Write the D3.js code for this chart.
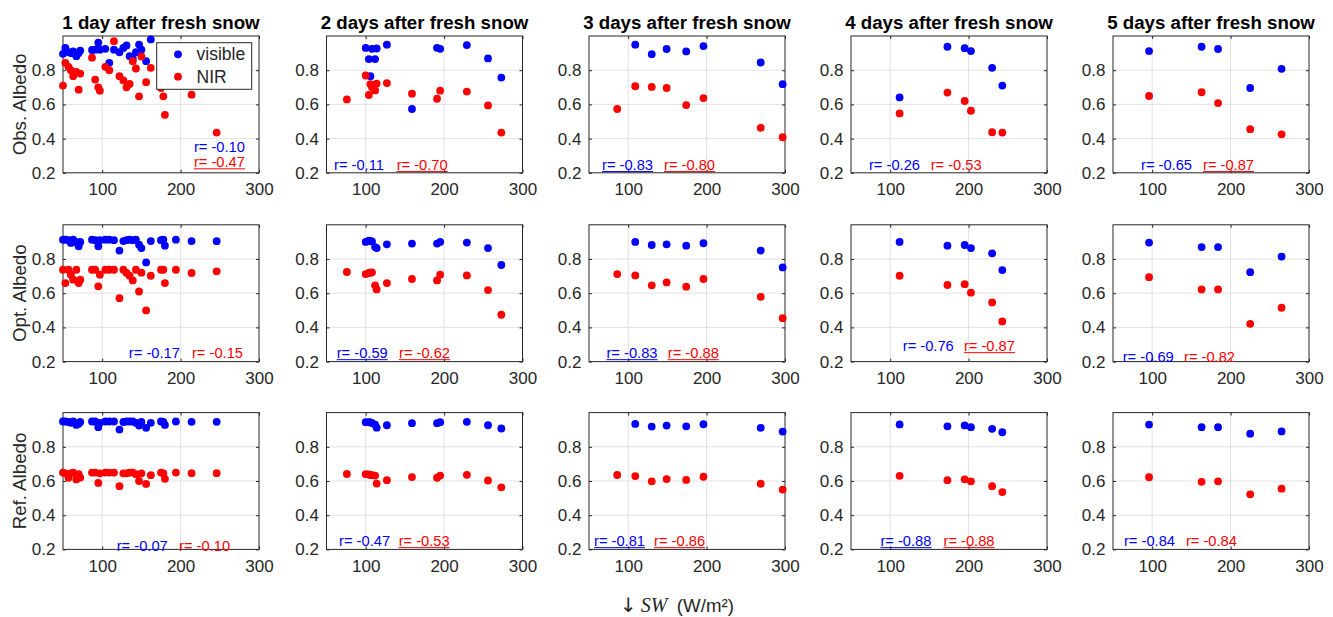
<!DOCTYPE html>
<html>
<head>
<meta charset="utf-8">
<script src="https://cdn.jsdelivr.net/npm/d3@7"></script>
<style>
  body { margin: 0; background: #fff; }
  text { font-family: "Liberation Sans", Arial, Helvetica, sans-serif; }
</style>
</head>
<body>
<svg id="fig" width="1333" height="617"></svg>
<script>
// ---- data ----
const titles = ["1 day after fresh snow", "2 days after fresh snow", "3 days after fresh snow",
                "4 days after fresh snow", "5 days after fresh snow"];
const rowLabels = ["Obs. Albedo", "Opt. Albedo", "Ref. Albedo"];
const xTicks = [100, 200, 300];
const yTicks = [0.2, 0.4, 0.6, 0.8];

// incoming shortwave (W/m2), one list per day
const sw1 = [50, 53, 57, 60, 63, 67, 70, 72, 87, 91, 95, 97, 104, 109, 115, 122, 127, 131, 135, 139, 143, 147, 150, 156, 162, 175, 178, 180, 194, 214, 246];
const sw2 = [76, 100, 104, 106, 108, 112, 114, 127, 159, 191, 195, 229, 256, 273];
const sw3 = [86, 109, 130, 149, 174, 196, 269, 297];
const sw4 = [112, 173, 195, 203, 230, 243];
const sw5 = [96, 163, 184, 225, 265];

// observed albedo
const obsVis1 = [0.896, 0.931, 0.906, 0.90, 0.91, 0.882, 0.90, 0.915, 0.918, 0.92, 0.961, 0.92, 0.925, 0.843, 0.92, 0.905, 0.93, 0.945, 0.882, 0.867, 0.905, 0.95, 0.92, 0.853, 0.98, 0.93, 0.91, 0.91, 0.92, 0.93, 0.92];
const obsNir1 = [0.71, 0.843, 0.82, 0.80, 0.765, 0.79, 0.686, 0.78, 0.873, 0.745, 0.70, 0.68, 0.82, 0.80, 0.97, 0.765, 0.74, 0.70, 0.72, 0.853, 0.81, 0.647, 0.88, 0.73, 0.814, 0.696, 0.647, 0.539, 0.75, 0.657, 0.435];
const obsVis2 = [null, 0.93, 0.865, 0.765, 0.925, 0.865, 0.927, 0.949, 0.573, 0.931, 0.925, 0.947, 0.869, 0.757];
const obsNir2 = [0.629, 0.769, 0.655, 0.718, 0.70, 0.682, 0.722, 0.725, 0.663, 0.633, 0.680, 0.675, 0.594, 0.435];
const obsVis3 = [null, 0.949, 0.894, 0.924, 0.910, 0.941, 0.845, 0.718];
const obsNir3 = [0.573, 0.706, 0.702, 0.696, 0.596, 0.637, 0.463, 0.408];
const obsVis4 = [0.641, 0.937, 0.929, 0.912, 0.814, 0.710];
const obsNir4 = [0.547, 0.669, 0.620, 0.563, 0.437, 0.435];
const obsVis5 = [0.912, 0.937, 0.924, 0.696, 0.808];
const obsNir5 = [0.649, 0.671, 0.608, 0.455, 0.425];

// optimised albedo
const optVis1 = [0.913, 0.913, 0.91, 0.894, 0.913, 0.898, 0.874, 0.90, 0.913, 0.91, 0.874, 0.91, 0.913, 0.913, 0.91, 0.849, 0.905, 0.91, 0.913, 0.91, 0.913, 0.884, 0.864, 0.78, 0.905, 0.91, 0.913, 0.878, 0.913, 0.905, 0.904];
const optNir1 = [0.737, 0.659, 0.737, 0.708, 0.679, 0.737, 0.659, 0.679, 0.737, 0.737, 0.640, 0.708, 0.737, 0.737, 0.737, 0.571, 0.737, 0.718, 0.702, 0.675, 0.737, 0.610, 0.72, 0.499, 0.702, 0.737, 0.737, 0.659, 0.737, 0.718, 0.728];
const optVis2 = [null, 0.900, 0.907, 0.905, 0.903, 0.870, 0.864, 0.886, 0.890, 0.890, 0.900, 0.896, 0.864, 0.765];
const optNir2 = [0.724, 0.712, 0.718, 0.720, 0.722, 0.646, 0.622, 0.659, 0.683, 0.675, 0.708, 0.704, 0.618, 0.474];
const optVis3 = [null, 0.900, 0.882, 0.886, 0.878, 0.892, 0.849, 0.751];
const optNir3 = [0.712, 0.704, 0.646, 0.663, 0.638, 0.683, 0.579, 0.454];
const optVis4 = [0.900, 0.878, 0.882, 0.864, 0.833, 0.735];
const optNir4 = [0.702, 0.648, 0.653, 0.603, 0.546, 0.435];
const optVis5 = [0.896, 0.870, 0.870, 0.723, 0.814];
const optNir5 = [0.694, 0.622, 0.622, 0.421, 0.515];

// reference albedo
const refVis1 = [0.948, 0.948, 0.945, 0.940, 0.948, 0.928, 0.935, 0.945, 0.948, 0.948, 0.915, 0.94, 0.948, 0.948, 0.948, 0.901, 0.945, 0.948, 0.948, 0.948, 0.94, 0.924, 0.945, 0.911, 0.94, 0.948, 0.945, 0.928, 0.948, 0.946, 0.946];
const refNir1 = [0.649, 0.645, 0.619, 0.645, 0.649, 0.609, 0.64, 0.62, 0.649, 0.649, 0.589, 0.645, 0.649, 0.649, 0.649, 0.570, 0.645, 0.645, 0.649, 0.649, 0.64, 0.600, 0.645, 0.583, 0.634, 0.649, 0.645, 0.613, 0.649, 0.646, 0.646];
const refVis2 = [null, 0.944, 0.944, 0.942, 0.940, 0.930, 0.912, 0.926, 0.938, 0.938, 0.944, 0.946, 0.926, 0.907];
const refNir2 = [0.641, 0.640, 0.638, 0.636, 0.634, 0.632, 0.585, 0.605, 0.623, 0.619, 0.632, 0.636, 0.603, 0.563];
const refVis3 = [null, 0.934, 0.918, 0.924, 0.920, 0.932, 0.911, 0.889];
const refNir3 = [0.635, 0.629, 0.598, 0.611, 0.606, 0.625, 0.584, 0.550];
const refVis4 = [0.931, 0.920, 0.925, 0.915, 0.905, 0.885];
const refNir4 = [0.630, 0.605, 0.610, 0.598, 0.570, 0.535];
const refVis5 = [0.930, 0.915, 0.915, 0.877, 0.890];
const refNir5 = [0.622, 0.595, 0.598, 0.522, 0.555];

// correlation coefficients (rows: obs, opt, ref; cols: day 1..5)
const rVis = [[-0.10, -0.11, -0.83, -0.26, -0.65], [-0.17, -0.59, -0.83, -0.76, -0.69], [-0.07, -0.47, -0.81, -0.88, -0.84]];
const rNir = [[-0.47, -0.70, -0.80, -0.53, -0.87], [-0.15, -0.62, -0.88, -0.87, -0.82], [-0.10, -0.53, -0.86, -0.88, -0.84]];
// significant ones are underlined
const sigVis = [[false, false, true, false, false], [false, true, true, false, false], [false, false, true, true, false]];
const sigNir = [[true, true, true, false, true], [false, true, true, true, false], [false, true, true, true, false]];

// ---- layout ----
const sw = [sw1, sw2, sw3, sw4, sw5];
const vis = [[obsVis1, obsVis2, obsVis3, obsVis4, obsVis5], [optVis1, optVis2, optVis3, optVis4, optVis5], [refVis1, refVis2, refVis3, refVis4, refVis5]];
const nir = [[obsNir1, obsNir2, obsNir3, obsNir4, obsNir5], [optNir1, optNir2, optNir3, optNir4, optNir5], [refNir1, refNir2, refNir3, refNir4, refNir5]];

// where the r= labels sit, in data units [x, y]
const visPos = [[[217, 0.353], [59.6, 0.247], [66.6, 0.247], [72.9, 0.245], [85.7, 0.247]],
                [[134, 0.251], [63, 0.251], [72.3, 0.251], [116, 0.292], [62.4, 0.224]],
                [[118.5, 0.221], [66, 0.25], [56.4, 0.25], [87.5, 0.25], [64, 0.25]]];
const nirPos = [[[217, 0.263], [139.5, 0.247], [145.7, 0.247], [151.6, 0.245], [164.8, 0.247]],
                [[214.5, 0.251], [142.5, 0.251], [150.5, 0.251], [194, 0.292], [140.6, 0.224]],
                [[198, 0.221], [142, 0.25], [133, 0.25], [168, 0.25], [143, 0.25]]];

const colLeft = [63, 326.5, 589, 851, 1113];
const rowTop = [36, 224.8, 412.6];
const pw = 196, ph = 136.8;
const axisColor = "#262626";
const gridColor = "#e2e2e2";
const blue = "#0000ff", red = "#ff0000";
const dotR = 3.9;

const svg = d3.select("#fig");

function fmt(v) { return "r= " + v.toFixed(2); }

function drawR(g, x, y, px, py, txt, color, underline) {
  const t = g.append("text")
    .attr("x", x(px)).attr("y", y(py) + 5)
    .attr("fill", color)
    .style("font-size", "14.7px")
    .text(txt);
  if (underline) {
    const w = t.node().getComputedTextLength();
    g.append("line")
      .attr("x1", x(px)).attr("x2", x(px) + w)
      .attr("y1", y(py) + 6.8).attr("y2", y(py) + 6.8)
      .attr("stroke", color).attr("stroke-width", 1);
  }
}

for (let r = 0; r < 3; r++) {
  for (let c = 0; c < 5; c++) {
    const left = colLeft[c], top = rowTop[r];
    const x = d3.scaleLinear().domain([50, 300]).range([left, left + pw]);
    const y = d3.scaleLinear().domain([0.2, 1.0]).range([top + ph, top]);
    const g = svg.append("g");

    // grid
    g.selectAll(".gx").data(xTicks.filter(d => d < 300)).join("line")
      .attr("x1", d => x(d)).attr("x2", d => x(d))
      .attr("y1", top).attr("y2", top + ph)
      .attr("stroke", gridColor).attr("stroke-width", 1);
    g.selectAll(".gy").data(yTicks.filter(d => d > 0.2)).join("line")
      .attr("x1", left).attr("x2", left + pw)
      .attr("y1", d => y(d)).attr("y2", d => y(d))
      .attr("stroke", gridColor).attr("stroke-width", 1);

    // axes with inward ticks (MATLAB style)
    const xa = g.append("g").attr("transform", `translate(0,${top + ph})`)
      .call(d3.axisBottom(x).tickValues(xTicks).tickSize(-3).tickPadding(10.5).tickFormat(d3.format("d")));
    const xt = g.append("g").attr("transform", `translate(0,${top})`)
      .call(d3.axisTop(x).tickValues(xTicks).tickSize(-3).tickFormat(""));
    const ya = g.append("g").attr("transform", `translate(${left},0)`)
      .call(d3.axisLeft(y).tickValues(yTicks).tickSize(-3).tickPadding(7.5).tickFormat(d3.format(".1f")));
    const yr = g.append("g").attr("transform", `translate(${left + pw},0)`)
      .call(d3.axisRight(y).tickValues(yTicks).tickSize(-3).tickFormat(""));
    [xa, xt, ya, yr].forEach(a => {
      a.select(".domain").remove();
      a.selectAll("line").attr("stroke", axisColor);
      a.selectAll("text").attr("fill", axisColor).style("font-size", "17px")
        .style("font-family", '"Liberation Sans", Arial, sans-serif');
    });
    g.append("rect").attr("x", left).attr("y", top).attr("width", pw).attr("height", ph)
      .attr("fill", "none").attr("stroke", axisColor).attr("stroke-width", 1);

    // points: visible first, NIR on top
    const pts = sw[c].map((s, i) => ({ s, v: vis[r][c][i], n: nir[r][c][i] }));
    g.selectAll(".pv").data(pts.filter(d => d.v != null)).join("circle")
      .attr("cx", d => x(d.s)).attr("cy", d => y(d.v)).attr("r", dotR).attr("fill", blue);
    g.selectAll(".pn").data(pts.filter(d => d.n != null)).join("circle")
      .attr("cx", d => x(d.s)).attr("cy", d => y(d.n)).attr("r", dotR).attr("fill", red);

    // r labels
    drawR(g, x, y, visPos[r][c][0], visPos[r][c][1], fmt(rVis[r][c]), blue, sigVis[r][c]);
    drawR(g, x, y, nirPos[r][c][0], nirPos[r][c][1], fmt(rNir[r][c]), red, sigNir[r][c]);

    // title
    if (r === 0) {
      g.append("text").attr("x", left + pw / 2).attr("y", 29)
        .attr("text-anchor", "middle").style("font-size", "18.7px").style("font-weight", "bold")
        .attr("fill", "#000").text(titles[c]);
    }
    // y label
    if (c === 0) {
      g.append("text").attr("transform", `translate(25.5,${top + ph / 2}) rotate(-90)`)
        .attr("text-anchor", "middle").style("font-size", "18.7px").attr("fill", axisColor)
        .text(rowLabels[r]);
    }
    // legend in first panel
    if (r === 0 && c === 0) {
      const lg = g.append("g");
      lg.append("rect").attr("x", 156.7).attr("y", 42.7).attr("width", 95).attr("height", 46.6)
        .attr("fill", "#fff").attr("stroke", axisColor).attr("stroke-width", 1);
      [["visible", blue, 54.3], ["NIR", red, 76.7]].forEach(([lab, col, ly]) => {
        lg.append("circle").attr("cx", 178).attr("cy", ly).attr("r", dotR).attr("fill", col);
        lg.append("text").attr("x", 196.5).attr("y", ly + 6).style("font-size", "17.5px")
          .attr("fill", axisColor).text(lab);
      });
    }
  }
}

// shared x label
const xl = svg.append("text").attr("x", 677).attr("y", 612).attr("text-anchor", "middle")
  .style("font-size", "18.7px").attr("fill", axisColor);
xl.append("tspan").style("font-family", '"DejaVu Sans", sans-serif').style("font-size", "20px").text("\u2193");
xl.append("tspan").style("font-family", '"Liberation Serif", "Times New Roman", serif')
  .style("font-style", "italic").style("font-size", "20px").text("\u2009SW");
xl.append("tspan").text("\u2002(W/m\u00b2)");
</script>
</body>
</html>
